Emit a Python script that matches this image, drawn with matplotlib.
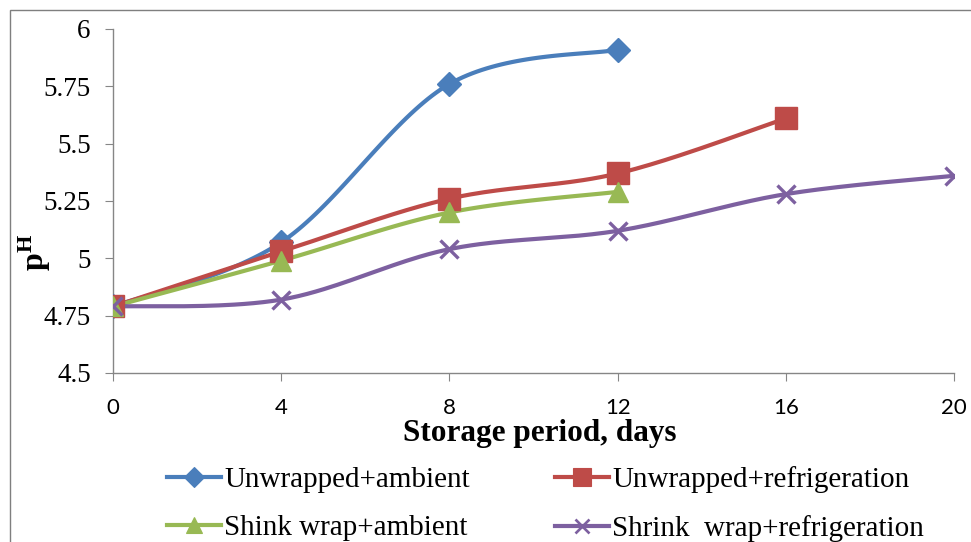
import numpy as np
import matplotlib.pyplot as plt
from matplotlib.patches import Rectangle

plt.rcParams["font.family"] = ["Liberation Serif", "DejaVu Serif"]
plt.rcParams["mathtext.fontset"] = "custom"
plt.rcParams["mathtext.rm"] = "Liberation Serif"
plt.rcParams["mathtext.bf"] = "Liberation Serif:bold"

days_a = [0, 4, 8, 12]
days_b = [0, 4, 8, 12, 16]
days_c = [0, 4, 8, 12, 16, 20]

unwrapped_ambient = [4.79, 5.07, 5.76, 5.91]
unwrapped_fridge = [4.79, 5.03, 5.26, 5.37, 5.61]
shrink_ambient = [4.79, 4.99, 5.20, 5.29]
shrink_fridge = [4.79, 4.82, 5.04, 5.12, 5.28, 5.36]

labels = [
    "Unwrapped+ambient",
    "Unwrapped+refrigeration",
    "Shink wrap+ambient",
    "Shrink  wrap+refrigeration",
]
y_ticks = [4.5, 4.75, 5, 5.25, 5.5, 5.75, 6]
y_tick_labels = ["4.5", "4.75", "5", "5.25", "5.5", "5.75", "6"]
x_ticks = [0, 4, 8, 12, 16, 20]

COLORS = ["#4a7ebb", "#be4b48", "#98b954", "#7d60a0"]
MARKERS = ["D", "s", "^", "x"]
MSIZES = [12.5, 15.5, 14, 12.5]


def smooth(xs, ys, n=40):
    # Excel-style smoothed line: cubic bezier with catmull-rom controls
    p = np.column_stack([xs, ys]).astype(float)
    scale = np.array([1 / 20.0, 1 / 1.5 * 0.41])
    q = p * scale
    out = [q[0]]
    for i in range(len(q) - 1):
        p0 = q[i - 1] if i > 0 else q[i]
        p1 = q[i]
        p2 = q[i + 1]
        p3 = q[i + 2] if i + 2 < len(q) else q[i + 1]
        c1 = p1 + (p2 - p0) / 6
        c2 = p2 - (p3 - p1) / 6
        t = np.linspace(0, 1, n)[1:, None]
        seg = ((1 - t) ** 3) * p1 + 3 * ((1 - t) ** 2) * t * c1 + 3 * (1 - t) * t ** 2 * c2 + t ** 3 * p2
        out.extend(seg)
    out = np.array(out) / scale
    return out[:, 0], out[:, 1]


fig = plt.figure(figsize=(9.71, 5.42), dpi=100)
fig.patches.append(Rectangle((10 / 971, -0.1), 1.2, 1 - 10 / 542 + 0.1,
                             transform=fig.transFigure, fill=False,
                             edgecolor="#7f7f7f", linewidth=1.0))

ax = fig.add_axes([113 / 971, 1 - 373 / 542, (954 - 113) / 971, (373 - 29) / 542])

series = [
    (days_a, unwrapped_ambient),
    (days_b, unwrapped_fridge),
    (days_a, shrink_ambient),
    (days_c, shrink_fridge),
]
handles = []
for (xs, ys), c, m, ms, lab in zip(series, COLORS, MARKERS, MSIZES, labels):
    sx, sy = smooth(xs, ys)
    ax.plot(sx, sy, color=c, lw=3.0, solid_capstyle="round", zorder=2)
    mew = 2.4 if m == "x" else 1
    ax.plot(xs, ys, linestyle="none", marker=m, ms=ms, color=c, mec=c, mew=mew, zorder=3)
    h, = ax.plot([], [], color=c, lw=3.0, marker=m, ms=ms * 0.8, mec=c, mew=mew * 0.8, label=lab)
    handles.append(h)

ax.set_xlim(0, 20)
ax.set_ylim(4.5, 6)
ax.set_xticks(x_ticks)
ax.set_yticks(y_ticks)
ax.set_yticklabels(y_tick_labels)
for s in ["top", "right"]:
    ax.spines[s].set_visible(False)
for s in ["left", "bottom"]:
    ax.spines[s].set_color("#868686")
    ax.spines[s].set_linewidth(1.0)
ax.tick_params(axis="both", direction="out", length=6, color="#868686")
ax.tick_params(axis="y", pad=10, labelsize=19.5)
ax.tick_params(axis="x", pad=12, labelsize=16)
for lbl in ax.get_xticklabels():
    lbl.set_fontfamily(["Lato", "DejaVu Sans"])

fig.text(540 / 971, 1 - 434 / 542, "Storage period, days", fontsize=22.5,
         fontweight="bold", ha="center", va="center")
fig.text(35 / 971, 1 - 252 / 542, r"$\mathbf{p^{H}}$", rotation=90,
         fontsize=23, ha="center", va="center")

# column-major fill -> reorder so rows read as in the original
order = [0, 2, 1, 3]
fig.legend(handles=[handles[i] for i in order], ncol=2, loc="upper left",
           bbox_to_anchor=(167 / 971, 1 - 466 / 542), frameon=False,
           fontsize=21, handlelength=1.85, handletextpad=0.12,
           columnspacing=2.9, labelspacing=0.75, numpoints=1,
           borderaxespad=0, borderpad=0)

fig.savefig("out.png", dpi=100)
